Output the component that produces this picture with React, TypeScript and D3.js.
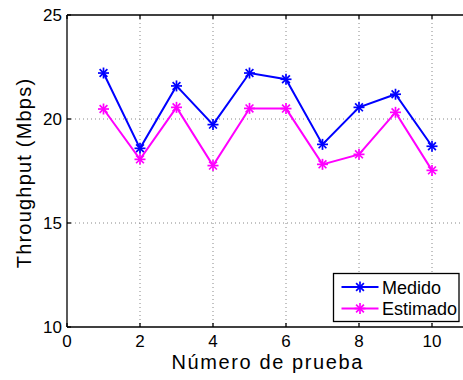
import React, { useEffect, useRef } from 'react';
import * as d3 from 'd3';

const pruebas = [1, 2, 3, 4, 5, 6, 7, 8, 9, 10];
const medido = [22.21, 18.59, 21.59, 19.73, 22.21, 21.91, 18.78, 20.56, 21.19, 18.69];
const estimado = [20.48, 18.06, 20.56, 17.76, 20.51, 20.5, 17.82, 18.3, 20.32, 17.53];
const xTicks = [0, 2, 4, 6, 8, 10];
const yTicks = [10, 15, 20, 25];
const seriesNames = ['Medido', 'Estimado'];
const seriesColors = ['#0000ff', '#ff00ff'];

const App = () => {
    const ref = useRef<SVGSVGElement>(null);

    useEffect(() => {
        const svg = d3.select(ref.current);
        svg.selectAll('*').remove();

        const left = 67, top = 15, bottom = 327;
        const x = d3.scaleLinear().domain([0, 11]).range([left, left + 36.5 * 11]);
        const y = d3.scaleLinear().domain([10, 25]).range([bottom, top]);
        const font = "'Liberation Sans', Arial, Helvetica, sans-serif";

        svg.append('rect').attr('width', 463).attr('height', 380).attr('fill', '#fff');

        // grid
        const grid = svg.append('g').attr('stroke', '#888').attr('stroke-width', 1)
            .attr('stroke-dasharray', '1,3');
        xTicks.filter(t => t > 0).forEach(t => {
            grid.append('line').attr('x1', x(t)).attr('x2', x(t)).attr('y1', top).attr('y2', bottom);
        });
        yTicks.filter(t => t > 10 && t < 25).forEach(t => {
            grid.append('line').attr('x1', left).attr('x2', 463).attr('y1', y(t)).attr('y2', y(t));
        });

        // axes box lines (right side is cut off by the frame)
        const ax = svg.append('g').attr('stroke', '#000').attr('stroke-width', 1.3);
        ax.append('line').attr('x1', left).attr('x2', 463).attr('y1', bottom).attr('y2', bottom);
        ax.append('line').attr('x1', left).attr('x2', 463).attr('y1', top).attr('y2', top);
        ax.append('line').attr('x1', left).attr('x2', left).attr('y1', top).attr('y2', bottom);
        xTicks.forEach(t => {
            ax.append('line').attr('x1', x(t)).attr('x2', x(t)).attr('y1', bottom).attr('y2', bottom - 4);
            ax.append('line').attr('x1', x(t)).attr('x2', x(t)).attr('y1', top).attr('y2', top + 4);
        });
        yTicks.forEach(t => {
            ax.append('line').attr('x1', left).attr('x2', left + 4).attr('y1', y(t)).attr('y2', y(t));
        });

        // tick labels
        svg.append('g').selectAll('text').data(xTicks).enter().append('text')
            .attr('x', d => x(d)).attr('y', bottom + 20)
            .attr('text-anchor', 'middle').attr('font-family', font).attr('font-size', 17)
            .text(d => d);
        svg.append('g').selectAll('text').data(yTicks).enter().append('text')
            .attr('x', left - 5).attr('y', d => y(d) + 6)
            .attr('text-anchor', 'end').attr('font-family', font).attr('font-size', 17)
            .text(d => d);

        // axis labels
        svg.append('text').attr('x', x(5.5)).attr('y', 369)
            .attr('text-anchor', 'middle').attr('font-family', font).attr('font-size', 20)
            .attr('letter-spacing', 1.6)
            .text('Número de prueba');
        svg.append('text').attr('transform', `translate(31,173) rotate(-90)`)
            .attr('text-anchor', 'middle').attr('font-family', font).attr('font-size', 20)
            .attr('letter-spacing', 1.2)
            .text('Throughput (Mbps)');

        const star = (g, cx, cy, color) => {
            const r = 5.5;
            [0, 45, 90, 135].forEach(a => {
                const rad = a * Math.PI / 180;
                g.append('line')
                    .attr('x1', cx - r * Math.cos(rad)).attr('y1', cy - r * Math.sin(rad))
                    .attr('x2', cx + r * Math.cos(rad)).attr('y2', cy + r * Math.sin(rad))
                    .attr('stroke', color).attr('stroke-width', 1.7);
            });
        };

        const line = d3.line<number>().x((d, i) => x(pruebas[i])).y(d => y(d));
        [medido, estimado].forEach((vals, k) => {
            const g = svg.append('g');
            g.append('path').attr('d', line(vals)).attr('fill', 'none')
                .attr('stroke', seriesColors[k]).attr('stroke-width', 2);
            vals.forEach((v, i) => star(g, x(pruebas[i]), y(v), seriesColors[k]));
        });

        // legend
        const lg = svg.append('g');
        lg.append('rect').attr('x', 333.5).attr('y', 273.5).attr('width', 125.5).attr('height', 48)
            .attr('fill', '#fff').attr('stroke', '#000').attr('stroke-width', 1.3);
        seriesNames.forEach((name, k) => {
            const yy = 287 + k * 21.5;
            lg.append('line').attr('x1', 341.5).attr('x2', 378.5).attr('y1', yy).attr('y2', yy)
                .attr('stroke', seriesColors[k]).attr('stroke-width', 2);
            star(lg, 360, yy, seriesColors[k]);
            lg.append('text').attr('x', 382).attr('y', yy + 6.5)
                .attr('font-family', font).attr('font-size', 18).text(name);
        });
    }, []);

    return (
        <svg ref={ref} width={463} height={380}
            style={{ position: 'absolute', left: 0, top: 0, display: 'block' }} />
    );
};

export default App;
